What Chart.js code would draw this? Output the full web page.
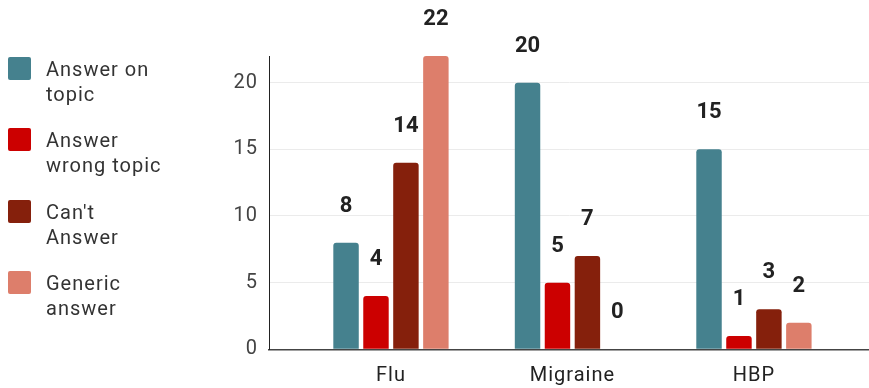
<!DOCTYPE html>
<html>
<head>
<meta charset="utf-8">
<script src="https://cdn.jsdelivr.net/npm/chart.js@4.4.1/dist/chart.umd.min.js"></script>
<style>
  body { margin: 0; background: #fff; font-family: Roboto, sans-serif; }
  .wrap { position: relative; width: 869px; height: 388px; }
  #legend { position: absolute; left: 0; top: 0; }
  .legend__item { position: absolute; left: 8px; width: 200px; }
  .legend__box { position: absolute; left: 0; top: 0; width: 23px; height: 23px; border-radius: 2px; }
  .legend__text { position: absolute; left: 38px; top: 0; font-size: 20px; letter-spacing: 1px; line-height: 25px; color: #333; white-space: nowrap; }
</style>
</head>
<body>
<div class="wrap">
  <canvas id="chart" width="869" height="388"></canvas>
  <div id="legend"></div>
</div>
<script>
const categories = ["Flu", "Migraine", "HBP"];
const seriesNames = [["Answer on", "topic"], ["Answer", "wrong topic"], ["Can't", "Answer"], ["Generic", "answer"]];
const answerOnTopic = [8, 20, 15];
const answerWrongTopic = [4, 5, 1];
const cantAnswer = [14, 7, 3];
const genericAnswer = [22, 0, 2];
const yTicks = [0, 5, 10, 15, 20];
const colors = ["#45818e", "#cc0000", "#85200c", "#dd7e6b"];

const allSeries = [answerOnTopic, answerWrongTopic, cantAnswer, genericAnswer];

// legend (html, two line labels)
const legendEl = document.getElementById("legend");
seriesNames.forEach((name, i) => {
  let item = document.createElement("div");
  item.classList.add("legend__item");
  item.style.top = 57 + i * 71.3 + "px";
  item.innerHTML = `
    <div class="legend__box" style="background:${colors[i]}"></div>
    <div class="legend__text">${name[0]}<br>${name[1]}</div>`;
  legendEl.appendChild(item);
});

// spaced out axis text like the original
const spacedText = {
  id: "spacedText",
  beforeDraw(chart) {
    chart.ctx.letterSpacing = "1px";
  },
};

// value labels above bars
const valueLabels = {
  id: "valueLabels",
  afterDatasetsDraw(chart) {
    const ctx = chart.ctx;
    ctx.save();
    ctx.letterSpacing = "0px";
    ctx.font = "bold 22px Roboto";
    ctx.fillStyle = "#222";
    ctx.textAlign = "center";
    ctx.textBaseline = "middle";
    chart.data.datasets.forEach((ds, i) => {
      chart.getDatasetMeta(i).data.forEach((bar, j) => {
        ctx.fillText(ds.data[j].y, bar.x, bar.y - 36.5);
      });
    });
    ctx.restore();
  },
};

const config = {
  type: "bar",
  data: {
    datasets: allSeries.map((values, i) => ({
      label: seriesNames[i].join(" "),
      data: values.map((v, j) => ({ x: j, y: v })),
      backgroundColor: colors[i],
      borderRadius: 3,
      borderSkipped: "start",
      categoryPercentage: 0.66,
      barPercentage: 0.85,
    })),
  },
  options: {
    responsive: false,
    animation: false,
    layout: { padding: { left: 229, top: 56, right: 0, bottom: 0 } },
    plugins: { legend: { display: false }, tooltip: { enabled: false } },
    scales: {
      x: {
        type: "linear",
        offset: false,
        min: -0.672,
        max: 2.634,
        grid: { display: false, drawTicks: false },
        border: { display: true, color: "#444", width: 1.5 },
        afterFit: (s) => { s.height = 38.7; },
        afterBuildTicks: (s) => { s.ticks = categories.map((c, i) => ({ value: i })); },
        ticks: {
          padding: 15,
          color: "#222",
          font: { family: "Roboto", size: 20 },
          callback: (v) => categories[v],
        },
      },
      y: {
        min: 0,
        max: 22,
        afterFit: (s) => { s.width = 40; },
        afterBuildTicks: (s) => { s.ticks = yTicks.map((v) => ({ value: v })); },
        grid: {
          color: (c) => (c.tick && c.tick.value === 0 ? "rgba(0,0,0,0)" : "#ebebeb"),
          drawTicks: false,
        },
        border: { display: true, color: "#222", width: 1 },
        ticks: {
          padding: 11,
          color: "#444",
          font: { family: "Roboto", size: 20 },
        },
      },
    },
  },
  plugins: [spacedText, valueLabels],
};

const myChart = new Chart(document.getElementById("chart"), config);
</script>
</body>
</html>
